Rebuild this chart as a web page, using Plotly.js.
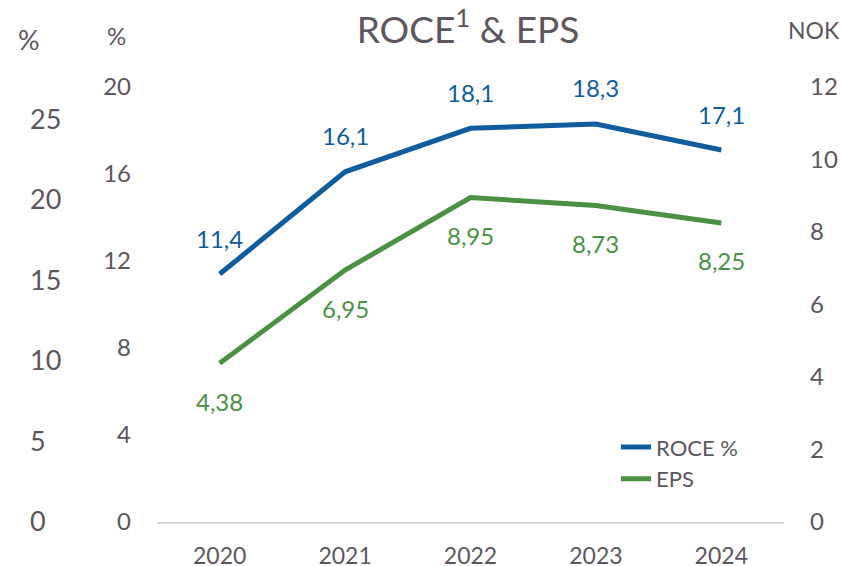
<!DOCTYPE html>
<html>
<head>
<meta charset="utf-8">
<script src="https://cdn.plot.ly/plotly-3.0.1.min.js"></script>
<style>html,body{margin:0;padding:0;background:#fff;}#chart{width:843px;height:566px;}</style>
</head>
<body>
<div id="chart"></div>
<script>
// ---- data ----
const years = ['2020', '2021', '2022', '2023', '2024'];
const roce = [11.4, 16.1, 18.1, 18.3, 17.1];
const eps = [4.38, 6.95, 8.95, 8.73, 8.25];
const roceTicks = [0, 4, 8, 12, 16, 20];
const epsTicks = [0, 2, 4, 6, 8, 10, 12];
const outerTicks = [0, 5, 10, 15, 20, 25];

const BLUE = '#0f5c9e';
const GREEN = '#4b9144';
const GREY = '#5c565e';
const FONT = 'Lato, "Open Sans", sans-serif';
const W = 843;

const fmt = (v, d) => v.toFixed(d).replace('.', ',');

const traces = [
  {x: years, y: roce, name: 'ROCE %', type: 'scatter', mode: 'lines',
   line: {color: BLUE, width: 5}, xaxis: 'x', yaxis: 'y', hoverinfo: 'skip'},
  {x: years, y: eps, name: 'EPS', type: 'scatter', mode: 'lines',
   line: {color: GREEN, width: 5}, xaxis: 'x', yaxis: 'y2', hoverinfo: 'skip'},
  {x: [years[0]], y: [null], type: 'scatter', mode: 'lines', showlegend: false,
   xaxis: 'x', yaxis: 'y3', hoverinfo: 'skip'}
];

const annotations = [];
years.forEach((yr, i) => {
  // category axis: position by category index
  annotations.push({x: i, y: roce[i], xref: 'x', yref: 'y', text: fmt(roce[i], 1),
    showarrow: false, yshift: 36, font: {family: FONT, size: 24, color: BLUE}});
  annotations.push({x: i, y: eps[i], xref: 'x', yref: 'y2', text: fmt(eps[i], 2),
    showarrow: false, yshift: -38, font: {family: FONT, size: 24, color: GREEN}});
});
annotations.push({xref: 'paper', yref: 'paper', x: 16 / W, y: 1 + 47 / 435, xanchor: 'left', yanchor: 'middle',
  text: '%', showarrow: false, font: {family: FONT, size: 27, color: GREY}});
annotations.push({xref: 'paper', yref: 'paper', x: 105 / W, y: 1 + 52 / 435, xanchor: 'left', yanchor: 'middle',
  text: '%', showarrow: false, font: {family: FONT, size: 24, color: GREY}});
annotations.push({xref: 'paper', yref: 'paper', x: 786 / W, y: 1 + 57 / 435, xanchor: 'left', yanchor: 'middle',
  text: 'NOK', showarrow: false, font: {family: FONT, size: 23, color: GREY}});

const tickFont = (s) => ({family: FONT, size: s, color: GREY});

const layout = {
  width: 843, height: 566,
  margin: {l: 0, r: 0, t: 87, b: 44, pad: 0},
  paper_bgcolor: '#ffffff', plot_bgcolor: 'rgba(0,0,0,0)',
  font: {family: FONT, color: GREY},
  title: {text: 'ROCE<sup>1</sup> &amp; EPS', font: {family: FONT, size: 37, color: GREY},
    x: 468 / W, xanchor: 'center', xref: 'paper', y: 1 - 30 / 566, yanchor: 'middle', yref: 'container'},
  showlegend: true,
  legend: {x: 616 / W, y: 0.22, xanchor: 'left', yanchor: 'top', bgcolor: 'rgba(0,0,0,0)',
    font: {family: FONT, size: 22, color: GREY}, tracegroupgap: 0},
  xaxis: {type: 'category', domain: [157 / W, 784 / W], range: [-0.5, 4.5], fixedrange: true,
    showline: true, linecolor: '#d9d9d9', linewidth: 2, showgrid: false, zeroline: false,
    ticks: '', tickfont: tickFont(23), ticklabelstandoff: 12, anchor: 'y'},
  yaxis: {range: [0, 20], tickvals: roceTicks, ticktext: roceTicks.map(String), showgrid: false,
    zeroline: false, showline: false, ticks: '', tickfont: tickFont(24), ticklabelstandoff: 25,
    side: 'left', anchor: 'x'},
  yaxis2: {range: [0, 12], tickvals: epsTicks, ticktext: epsTicks.map(String), overlaying: 'y',
    side: 'right', anchor: 'x', showgrid: false, zeroline: false, showline: false, ticks: '',
    tickfont: tickFont(24), ticklabelstandoff: 25},
  yaxis3: {range: [0, 27], tickvals: outerTicks, ticktext: outerTicks.map(String), overlaying: 'y',
    side: 'right', anchor: 'free', position: 29 / W, showgrid: false, zeroline: false,
    showline: false, ticks: '', tickfont: tickFont(27), ticklabelstandoff: 0},
  annotations: annotations
};

Plotly.newPlot('chart', traces, layout, {displayModeBar: false, staticPlot: true});
</script>
</body>
</html>
